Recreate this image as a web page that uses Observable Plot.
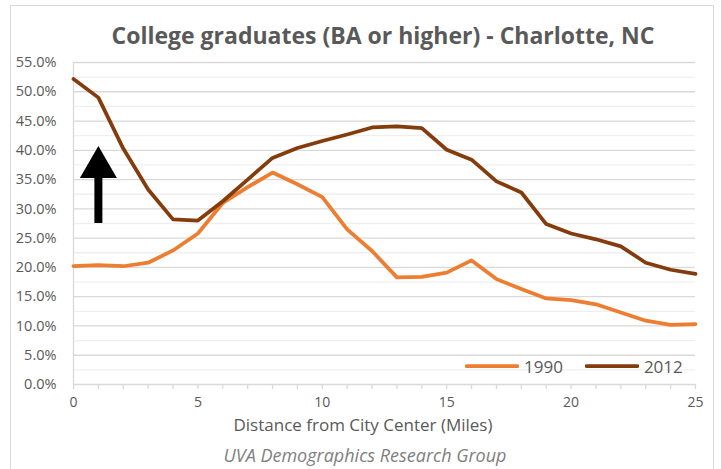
<!DOCTYPE html>
<html>
<head>
<meta charset="utf-8">
<script src="https://cdn.jsdelivr.net/npm/d3@7"></script>
<script src="https://cdn.jsdelivr.net/npm/@observablehq/plot@0.6"></script>
<style>
  html, body { margin: 0; padding: 0; background: #fff; }
  #wrap { position: relative; width: 721px; height: 469px; overflow: hidden; font-family: "Open Sans", "Noto Sans", sans-serif; }
  #frame { position: absolute; left: 10px; top: 5px; width: 704px; height: 480px; border: 1.5px solid #d9d9d9; box-sizing: border-box; }
  #title { position: absolute; left: 0; width: 766px; top: 19px; text-align: center; font-size: 23px; font-weight: 700; color: #595959; line-height: 32px; }
  #chart { position: absolute; left: 0; top: 50px; }
  #xlabel { position: absolute; left: 0; width: 726px; top: 412px; text-align: center; font-size: 17px; color: #595959; line-height: 26px; }
  #caption { position: absolute; left: 0; width: 730px; top: 442px; text-align: center; font-size: 18px; font-style: italic; color: #7f7f7f; line-height: 26px; }
  #legend { position: absolute; left: 465px; top: 354px; height: 24px; display: flex; align-items: center; font-size: 17px; color: #595959; }
  #legend .item { display: flex; align-items: center; }
  #legend svg { display: block; margin-right: 5px; }
</style>
</head>
<body>
<div id="wrap">
  <div id="frame"></div>
  <div id="title"></div>
  <div id="chart"></div>
  <div id="xlabel"></div>
  <div id="caption"></div>
  <div id="legend"></div>
</div>
<script>
// ---- data ----
const titleText = "College graduates (BA or higher) - Charlotte, NC";
const xLabelText = "Distance from City Center (Miles)";
const captionText = "UVA Demographics Research Group";

const miles = [0,1,2,3,4,5,6,7,8,9,10,11,12,13,14,15,16,17,18,19,20,21,22,23,24,25];
const pct1990 = [20.2,20.4,20.2,20.8,22.9,25.8,31.0,33.7,36.2,34.2,32.0,26.5,22.8,18.3,18.4,19.1,21.2,18.0,16.3,14.7,14.4,13.7,12.3,10.9,10.2,10.3];
const pct2012 = [52.2,49.0,40.3,33.3,28.2,28.0,31.3,35.0,38.7,40.4,41.6,42.7,43.9,44.1,43.8,40.1,38.4,34.7,32.8,27.4,25.8,24.8,23.6,20.8,19.6,18.9];

const seriesNames = ["1990", "2012"];
const seriesColors = ["#ed7d31", "#843c0c"];

const yMajorTicks = [0,0.05,0.10,0.15,0.20,0.25,0.30,0.35,0.40,0.45,0.50,0.55];
const yMinorTicks = [0.025,0.075,0.125,0.175,0.225,0.275,0.325,0.375,0.425,0.475,0.525];
const xMajorTicks = [0,5,10,15,20,25];
const xMinorTicks = miles;

// annotation arrow (data units)
const arrowX = [1];
const arrowBottom = [0.275];
const arrowBase = [0.358];
const arrowHeadCenter = [0.371];

// ---- build ----
const rows = [];
miles.forEach((m, i) => {
  rows.push({miles: m, value: pct1990[i] / 100, series: seriesNames[0]});
});
miles.forEach((m, i) => {
  rows.push({miles: m, value: pct2012[i] / 100, series: seriesNames[1]});
});

const arrowData = arrowX.map((x, i) => ({x, y1: arrowBottom[i], y2: arrowBase[i], yc: arrowHeadCenter[i]}));

const chart = Plot.plot({
  width: 721,
  height: 370,
  marginLeft: 73,
  marginRight: 26,
  marginTop: 12,
  marginBottom: 36,
  style: {fontFamily: "'Open Sans', 'Noto Sans', sans-serif", background: "transparent", overflow: "visible"},
  x: {domain: [0, 25], axis: null},
  y: {domain: [0, 0.55], axis: null},
  marks: [
    Plot.ruleY(yMinorTicks, {stroke: "#efefef", strokeWidth: 1.3}),
    Plot.ruleY(yMajorTicks.filter(d => d > 0), {stroke: "#d9d9d9", strokeWidth: 1.3}),
    Plot.ruleX([0], {y1: 0, y2: 0.55, stroke: "#d9d9d9", strokeWidth: 1.3}),
    Plot.ruleY([0], {stroke: "#d9d9d9", strokeWidth: 1.3}),
    Plot.axisX({ticks: xMinorTicks, tickSize: 5, tickFormat: () => "", stroke: "#d9d9d9", strokeWidth: 1.3, strokeOpacity: 1}),
    Plot.axisX({ticks: xMajorTicks, tickSize: 0, tickPadding: 13, fontSize: 14, color: "#595959", tickFormat: d => String(d)}),
    Plot.axisY({ticks: yMajorTicks, tickSize: 0, tickPadding: 17, fontSize: 14.5, color: "#595959", tickFormat: d3.format(".1%")}),
    Plot.line(rows, {
      x: "miles", y: "value", z: "series",
      stroke: d => seriesColors[seriesNames.indexOf(d.series)],
      strokeWidth: 3.75, strokeLinejoin: "round", strokeLinecap: "round"
    }),
    Plot.ruleX(arrowData, {x: "x", y1: "y1", y2: "y2", stroke: "#000", strokeWidth: 8}),
    Plot.dot(arrowData, {x: "x", y: "yc", symbol: "triangle", r: 13.74, fill: "#000", stroke: null})
  ]
});
document.getElementById("chart").appendChild(chart);

document.getElementById("title").textContent = titleText;
document.getElementById("xlabel").textContent = xLabelText;
document.getElementById("caption").textContent = captionText;

const legend = document.getElementById("legend");
seriesNames.forEach((name, i) => {
  const item = document.createElement("div");
  item.className = "item";
  if (i > 0) item.style.marginLeft = "22px";
  item.innerHTML = `<svg width="54" height="6"><line x1="1.5" y1="3" x2="52.5" y2="3" stroke="${seriesColors[i]}" stroke-width="3.75" stroke-linecap="round"/></svg><span>${name}</span>`;
  legend.appendChild(item);
});
</script>
</body>
</html>
